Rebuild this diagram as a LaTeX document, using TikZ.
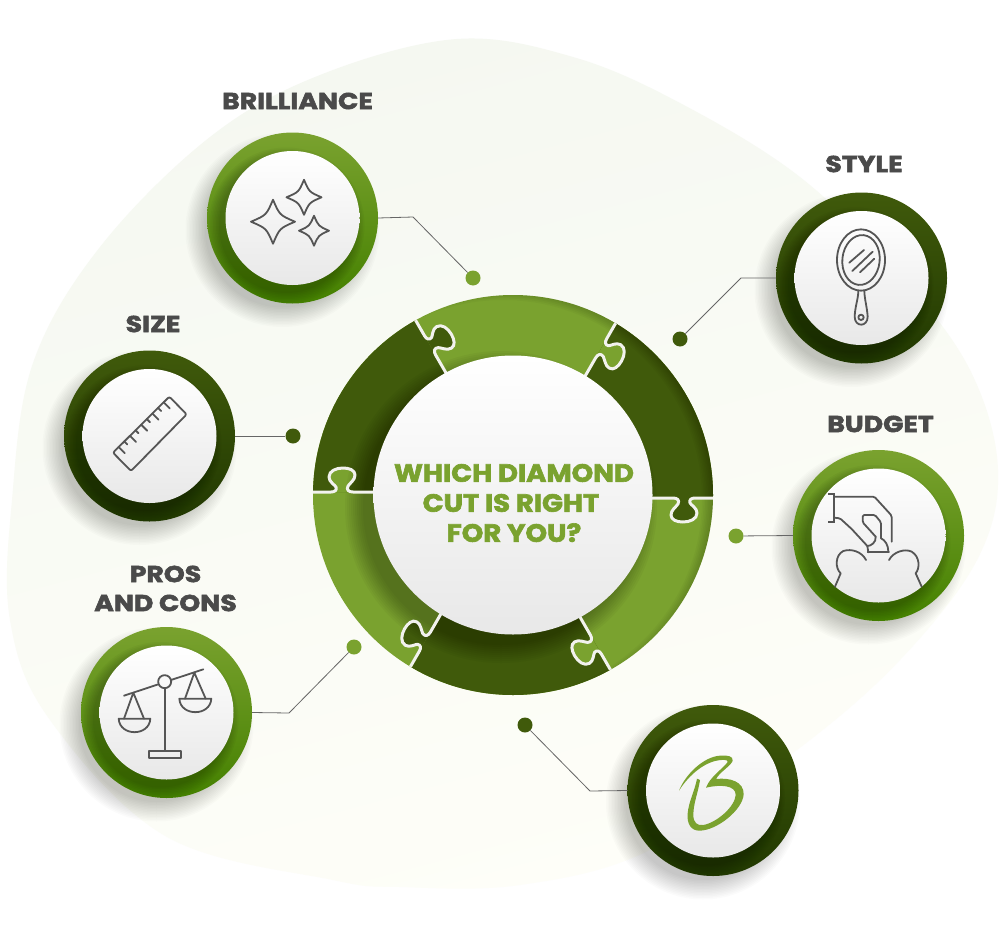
\documentclass[tikz,border=0pt]{standalone}
\usepackage{fontspec}
\usepackage{graphicx}
\newfontfamily\labfont{Poppins}[BoldFeatures={FakeBold=2.5,FakeStretch=1.16}]
\newfontfamily\titlefont{Poppins}[BoldFeatures={FakeBold=2.5,FakeStretch=1.10}]
\definecolor{lightg}{HTML}{7AA22F}
\definecolor{lightgb}{HTML}{448000}
\definecolor{darkg}{HTML}{405A0B}
\definecolor{darkgb}{HTML}{213801}
\definecolor{icong}{HTML}{555555}
\definecolor{textg}{HTML}{4A4A4A}
\definecolor{seamc}{HTML}{F2F2EE}
\definecolor{blobtop}{HTML}{F5F8F1}
\definecolor{blobmid}{HTML}{FBFCF6}
\definecolor{blobbot}{HTML}{FEFEF8}
\tikzset{
  labeltext/.style={font=\labfont\bfseries\fontsize{23}{23}\selectfont,text=textg,inner sep=0pt,align=center},
  centertext/.style={font=\titlefont\bfseries\fontsize{25}{30}\selectfont,text=lightg,inner sep=0pt,align=center},
  conn/.style={draw=black!60,line width=0.8pt},
  dotlight/.style={circle,fill=lightg,minimum size=15pt,inner sep=0pt},
  dotdark/.style={circle,fill=darkg,minimum size=15pt,inner sep=0pt},
  anchorcircle/.style={circle,minimum size=171pt,inner sep=0pt,outer sep=0pt},
  iconline/.style={draw=icong,line width=1.8pt,line join=round,line cap=round},
}
% name, x, y, top-right colour, lower-left colour
\newcommand{\ringbadge}[5]{%
  \foreach \i in {0,...,13}{\fill[black,opacity=.014] ({#2-10},{#3+12}) circle[radius={97pt-\i*1.5pt}];}
  \shade[shading angle=-45,top color=#4,middle color=#4,bottom color=#5] (#2,#3) circle[radius=85.5pt];
  \begin{scope}
    \clip (#2,#3) circle[radius=85.5pt];
    \foreach \i in {0,...,7}{\fill[black,opacity=.03] ({#2-6},{#3+7.5}) circle[radius={78pt-\i*1.5pt}];}
  \end{scope}
  \shade[shading angle=-45,top color=white,middle color=white,bottom color=black!9] (#2,#3) circle[radius=67pt];
  \node[anchorcircle] (#1) at (#2,#3) {};
}
\newcommand{\sparkle}[3]{%
  \draw[iconline] ({#1},{#2-#3}) .. controls ({#1+.3*#3},{#2-.3*#3}) .. ({#1+#3},{#2})
     .. controls ({#1+.3*#3},{#2+.3*#3}) .. ({#1},{#2+#3})
     .. controls ({#1-.3*#3},{#2+.3*#3}) .. ({#1-#3},{#2})
     .. controls ({#1-.3*#3},{#2-.3*#3}) .. cycle;
}
\def\knobpath{(160,3) .. controls (164,3) and (167,5) .. (165,9) .. controls (163,12) and (158,15) .. (158,20) .. controls (158,25) and (164,27) .. (170,27) .. controls (177,27) and (184,24) .. (184,18) .. controls (184,13) and (178,10) .. (177,8) .. controls (176,5) and (178,3) .. (182,3)}
\begin{document}
\begin{tikzpicture}[x=1pt,y=-1pt]
\useasboundingbox (0,0) rectangle (1000,931);
\fill[white] (0,0) rectangle (1000,931);
% background blob
\shade[top color=blobtop,middle color=blobmid,bottom color=blobbot,shading angle=15]
  plot[smooth cycle,tension=.6] coordinates {(457,39) (573,57) (680,103) (800,177) (900,275) (970,370) (998,470) (977,560) (900,660) (797,750) (650,850) (520,885) (400,887) (333,880) (167,837) (50,720) (10,620) (12,500) (33,363) (100,247) (210,137) (320,75)};

% badges
\ringbadge{brill}{292.5}{218}{lightg}{lightgb}
\ringbadge{style}{861.5}{278}{darkg}{darkgb}
\ringbadge{size}{149.5}{436}{darkg}{darkgb}
\ringbadge{budget}{878.5}{535.5}{lightg}{lightgb}
\ringbadge{pros}{166.5}{712.5}{lightg}{lightgb}
\ringbadge{logo}{713}{790.5}{darkg}{darkgb}

% dots and connectors
\node[dotlight] (dbrill) at (473,278) {};
\node[dotdark] (dstyle) at (680,339) {};
\node[dotdark] (dsize) at (293,436) {};
\node[dotlight] (dbudget) at (736,536) {};
\node[dotlight] (dpros) at (354,647) {};
\node[dotdark] (dlogo) at (525,725) {};
\coordinate (ebrill) at (413,217);
\coordinate (estyle) at (741,278);
\coordinate (epros) at (289,713);
\coordinate (elogo) at (590,791);
\draw[conn] (brill.east) -- (ebrill) -- (dbrill);
\draw[conn] (style.west) -- (estyle) -- (dstyle);
\draw[conn] (size.east) -- (dsize);
\draw[conn] (budget.west) -- (dbudget);
\draw[conn] (pros.east) -- (epros) -- (dpros);
\draw[conn] (logo.west) -- (elogo) -- (dlogo);

% central puzzle ring
\begin{scope}[shift={(513,495)}]
  \begin{scope}
    \clip (0,0) circle[radius=200pt];
    \fill[lightg] (-210,-210) rectangle (210,210);
    \foreach \a in {60,-60,180}{
      \fill[darkg] ([rotate=\a]0,3) -- ([rotate=\a]300,3) -- ({\a-30}:420pt) -- ([rotate=\a-60]300,3) -- ([rotate=\a-60]0,3) -- cycle;
      \fill[rotate=\a,lightg] \knobpath -- cycle;
    }
    \foreach \a in {0,120,-120}{
      \fill[rotate=\a,darkg] \knobpath -- cycle;
    }
    \foreach \i in {0,...,7}{
      \fill[black,opacity=.028,even odd rule] (-250,-250) rectangle (250,250) (-10,4) circle[radius={199pt+\i*1.6pt}];
    }
    \foreach \i in {0,...,9}{
      \fill[black,opacity=.03] (-12,12) circle[radius={156pt-\i*2pt}];
    }
    \foreach \a in {0,60,120,180,240,300}{
      \draw[rotate=\a,seamc,line width=3pt,line join=round] (130,3) -- \knobpath -- (210,3);
    }
  \end{scope}
  \shade[shading angle=-45,top color=white,middle color=white,bottom color=black!9] (0,0) circle[radius=139.5pt];
  \node[circle,minimum size=279pt,inner sep=0pt] (hub) at (0,0) {};
\end{scope}
\node[centertext] (title) at (514,503) {WHICH DIAMOND\\CUT IS RIGHT\hspace{6pt}\mbox{}\\FOR YOU?};

% labels
\node[labeltext] (lbrill) at (297.5,101) {BRILLIANCE};
\node[labeltext] (lstyle) at (864,164) {STYLE};
\node[labeltext] (lsize) at (153,324) {SIZE};
\node[labeltext] (lbudget) at (880.5,424) {BUDGET};
\node[labeltext,font=\labfont\bfseries\fontsize{23}{29}\selectfont] (lpros) at (165.5,588.5) {PROS\\AND CONS};

% sparkles
\sparkle{273}{221.7}{22}
\sparkle{304}{197.3}{17.5}
\sparkle{314}{230.7}{15}

% mirror
\begin{scope}[shift={(770,190)},scale=.33333]
  \draw[iconline] (273,210) ellipse[x radius=72,y radius=92];
  \draw[iconline,rotate around={-6:(273,210)}] (273,210) ellipse[x radius=56,y radius=75];
  \draw[iconline] (265,304) .. controls (264,330) and (255,350) .. (254,380) .. controls (254,412) and (293,412) .. (293,380) .. controls (291,350) and (284,330) .. (283,304);
  \draw[iconline] (273,382) circle[radius=8];
  \draw[iconline] (238,218) -- (282,180) (247,243) -- (308,185) (270,247) -- (313,206);
\end{scope}

% ruler
\begin{scope}[shift={(55,345)},scale=.33333]
  \draw[iconline,rounded corners=2pt] (174,323) -- (343,155) -- (395,208) -- (228,378) -- cycle;
  \foreach \i/\l in {1/26,2/13,3/26,4/13,5/26,6/13,7/26,8/13,9/26}{
    \draw[iconline] ({174+\i*16.9},{323-\i*16.8}) -- ++({\l*.71},{\l*.71});
  }
\end{scope}

% piggy bank and hand
\begin{scope}[shift={(785,445)},scale=.33333]
  \draw[iconline,line join=miter,line cap=butt] (130,147) -- (147,147) -- (147,232) -- (130,232);
  \draw[iconline,rounded corners=1.5pt] (147,155) -- (268,155) -- (320,212) -- (320,290);
  \draw[iconline,rounded corners=1.5pt] (147,218) -- (165,220) -- (200,252) -- (247,303);
  \draw[iconline,rounded corners=1.5pt] (272,275) -- (233,232) -- (233,210) -- (270,210) -- (288,232) -- (288,280);
  \draw[iconline] (272,275) .. controls (274,292) and (258,303) .. (247,303);
  \draw[iconline] (288,280) .. controls (300,285) and (310,300) .. (310,320);
  \draw[iconline] (247,303) -- (250,322);
  \draw[iconline] (150,425) -- (167,385) .. controls (150,370) and (150,330) .. (175,318) .. controls (200,310) and (230,320) .. (243,345);
  \draw[iconline] (248,322) -- (312,322);
  \draw[iconline] (312,345) .. controls (325,320) and (360,310) .. (380,320) .. controls (405,335) and (405,370) .. (392,385) -- (410,425);
\end{scope}

% scales
\begin{scope}[shift={(70,620)},scale=.33333]
  \draw[iconline] (162,227) -- (265,193) (303,180) -- (400,148);
  \draw[iconline] (284,185) circle[radius=19.5];
  \draw[iconline] (284,205) -- (284,392);
  \draw[iconline] (237,392) rectangle (332,415);
  \draw[iconline] (162,296) -- (190,218) -- (222,296);
  \draw[iconline] (146,296) -- (241,296) .. controls (238,350) and (149,350) .. (146,296) -- cycle;
  \draw[iconline] (345,236) -- (373,158) -- (407,236);
  \draw[iconline] (328,236) -- (424,236) .. controls (421,290) and (331,290) .. (328,236) -- cycle;
\end{scope}

% B logo
\begin{scope}[shift={(620,700)},scale=.33333]
  \fill[lightg] (177,272) .. controls (195,225) and (250,170) .. (300,167)
     .. controls (322,165) and (340,168) .. (338,182)
     .. controls (333,198) and (300,215) .. (288,237)
     .. controls (330,232) and (372,245) .. (371,283)
     .. controls (368,330) and (290,392) .. (238,392)
     .. controls (212,392) and (200,370) .. (203,340)
     .. controls (206,305) and (225,270) .. (231,236)
     -- (240,240)
     .. controls (235,275) and (220,310) .. (220,345)
     .. controls (220,368) and (232,378) .. (250,375)
     .. controls (290,368) and (345,320) .. (347,285)
     .. controls (348,255) and (300,253) .. (258,263)
     .. controls (270,230) and (310,205) .. (323,186)
     .. controls (325,178) and (305,178) .. (285,183)
     .. controls (240,195) and (200,235) .. (177,272) -- cycle;
\end{scope}
\end{tikzpicture}
\end{document}
